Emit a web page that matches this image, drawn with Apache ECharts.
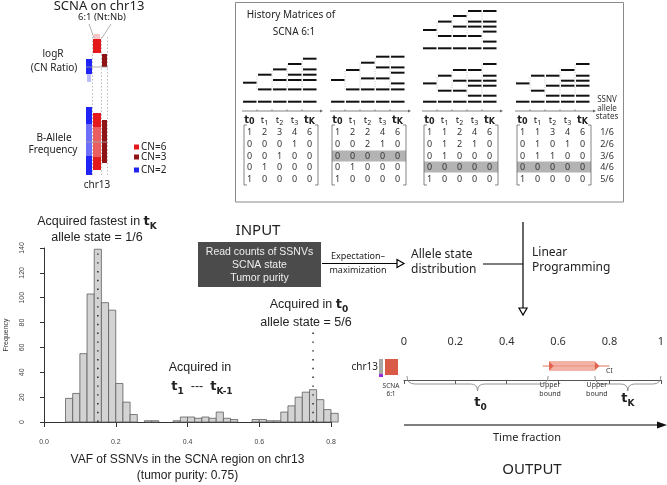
<!DOCTYPE html>
<html><head><meta charset="utf-8">
<script src="https://cdn.jsdelivr.net/npm/echarts@6/dist/echarts.min.js"></script>
<style>html,body{margin:0;padding:0;background:#fff}#c{width:667px;height:485px}</style>
</head><body><div id="c"></div>
<script>
// ================= DATA =================
// Histogram of VAF (bin lower edges, width 0.02)
const binLower = [0.06,0.08,0.10,0.12,0.14,0.16,0.18,0.20,0.22,0.24,0.26,0.28,0.30,0.32,0.34,0.36,0.38,0.40,0.42,0.44,0.46,0.48,0.50,0.52,0.54,0.56,0.58,0.60,0.62,0.64,0.66,0.68,0.70,0.72,0.74,0.76,0.78,0.80];
const binWidth = 0.02;
const counts = [19,23,55,103,139,96,90,31,16,6,0,1,1,0,0,1,4,4,3,4,3,8,3,2,0,0,2,2,1,1,8,13,20,24,26,18,10,7];
// dotted guide lines: [vaf, height]
const guideLines = [[0.15,140],[0.75,77]];
const histXTicks = [0,0.2,0.4,0.6,0.8];
const histYTicks = [0,20,40,60,80,100,120,140];

// Timeline output (time fraction)
const timeTicks = [0,0.2,0.4,0.6,0.8,1];
const ciWhiskerLow = 0.54, upperBoundT0 = 0.565, upperBoundTK = 0.743, ciWhiskerHigh = 0.80;

// History matrices of SCNA 6:1
const timeLabels = ['0','1','2','3','K'];
const alleleStates = ['1/6','2/6','3/6','4/6','5/6'];
const matrices = [
  [[1,2,3,4,6],[0,0,0,1,0],[0,0,1,0,0],[0,1,0,0,0],[1,0,0,0,0]],
  [[1,2,2,4,6],[0,0,2,1,0],[0,0,0,0,0],[0,1,0,0,0],[1,0,0,0,0]],
  [[1,1,2,4,6],[0,1,2,1,0],[0,1,0,0,0],[0,0,0,0,0],[1,0,0,0,0]],
  [[1,1,3,4,6],[0,1,0,1,0],[0,1,1,0,0],[0,0,0,0,0],[1,0,0,0,0]]
];
const highlightRow = [-1,2,3,3];
// copy-number trees: per column, heights of segments above the B-allele baseline
const trees = [
  {panel:0, levels:[[0,19],[0,12.3,27],[0,12.3,21.7,32.3],[0,12.3,21.7,27,37.7],[0,12.3,21.7,27,32.3,43]]},
  {panel:1, levels:[[0,21.7],[0,12.3,31.7],[0,12.3,23.3,39],[0,12.3,23.3,34.3,45],[0,12.3,18.3,29,34.3,45]]},
  {panel:2, upper:true, levels:[[0,18.3],[0,12.3,26.7],[0,12.3,21.7,32.3],[0,12.3,21.7,26.7,37.3],[0,6.7,16.7,21.7,26.7,37.3]]},
  {panel:2, levels:[[0,18.3],[0,11,26],[0,11,21,31.7],[0,6,16,21,31.7],[0,6,16,21,26,37.7]]},
  {panel:3, levels:[[0,18.3],[0,11,26],[0,6,16,26],[0,6,16,21,31.7],[0,6,16,21,26,37.7]]}
];

// ================= DRAWING =================
const FD = 'Noto Sans', FL = 'Liberation Sans', FB = 'DejaVu Sans';
const G = [];
function txt(x,y,text,o){G.push({type:'text',silent:true,z:10,style:Object.assign({x:x,y:y,text:text,fill:'#222',fontSize:11,fontFamily:FD,align:'center',verticalAlign:'middle'},o||{})});}
function ln(x1,y1,x2,y2,o){G.push({type:'line',silent:true,z:10,shape:{x1:x1,y1:y1,x2:x2,y2:y2},style:Object.assign({stroke:'#000',lineWidth:1},o||{})});}
function rc(x,y,w,h,o){G.push({type:'rect',silent:true,z:9,shape:{x:x,y:y,width:w,height:h},style:Object.assign({fill:'#000'},o||{})});}
function pg(pts,o){G.push({type:'polygon',silent:true,z:10,shape:{points:pts},style:Object.assign({fill:'#000'},o||{})});}
function pl(pts,o){G.push({type:'polyline',silent:true,z:10,shape:{points:pts},style:Object.assign({stroke:'#000',lineWidth:1,fill:null},o||{})});}

// ---- top-left SCNA panel ----
txt(99,6,'SCNA on chr13',{fontSize:13});
txt(102,17,'6:1 (Nt:Nb)',{fontSize:9.5});
ln(89,24,94,38,{stroke:'#999',lineWidth:0.8});
ln(111,24,102,38,{stroke:'#999',lineWidth:0.8});
[92.5,101.5,107.5].forEach(x=>ln(x,37,x,176,{stroke:'#aaa',lineWidth:0.8,lineDash:[1.5,2]}));
txt(53,54,'logR',{fontSize:10});
txt(54,68,'(CN Ratio)',{fontSize:10});
rc(93,39,8,14,{fill:'#e3191c'});
rc(94,34,6,5,{fill:'rgba(227,25,28,0.25)'});
rc(102,54,5,13,{fill:'#8e1416'});
rc(86,59,6,15,{fill:'#1f23f5'});
rc(87,74,4,8,{fill:'rgba(31,35,245,0.3)'});
ln(86,67,108,67,{stroke:'#999',lineWidth:0.8});
txt(54,138,'B-Allele',{fontSize:10});
txt(53,150,'Frequency',{fontSize:10});
rc(86,107,6,68,{fill:'#1f23f5'});
rc(86,124,6,32,{fill:'rgba(255,255,255,0.35)'});
rc(93,113,8,57,{fill:'#e3191c'});
rc(93,127,8,30,{fill:'rgba(255,255,255,0.3)'});
rc(102,120,5,43,{fill:'#8e1416'});
ln(86,142,108,142,{stroke:'#aaa',lineWidth:0.8});
txt(97,185,'chr13',{fontSize:10});
[['#e3191c','CN=6',147],['#8e1416','CN=3',157],['#1f23f5','CN=2',170]].forEach(function(d){
  rc(134,d[2]-2.5,5,5,{fill:d[0]});
  txt(141,d[2],d[1],{fontSize:10,align:'left'});
});

// ---- history matrices box ----
rc(235.5,2.5,388,199.5,{fill:null,stroke:'#8a8a8a',lineWidth:1});
txt(291,15,'History Matrices of',{fontSize:10});
txt(294,32,'SCNA 6:1',{fontSize:10});
const panelX = [242,330,422,515];
const colW = 15;
const treeBase = {lower:101.7, upper:48.3};
trees.forEach(function(t){
  const x0 = panelX[t.panel];
  const base = t.upper ? treeBase.upper : treeBase.lower;
  t.levels.forEach(function(col,j){
    col.forEach(function(h){
      ln(x0+j*colW+1, base-h, x0+j*colW+colW-0.5, base-h, {lineWidth:2,stroke:'#111'});
    });
    if(j>0){
      const prev = t.levels[j-1].filter(v=>v>0), cur = col.filter(v=>v>0);
      const all = prev.concat(cur);
      ln(x0+j*colW, base-Math.min.apply(null,all), x0+j*colW, base-Math.max.apply(null,all), {stroke:'#aaa',lineWidth:0.7,lineDash:[1,1.5]});
    }
  });
});
const rowY = [132,144,156,167,179];
panelX.forEach(function(x0,p){
  ln(x0, 111, x0+5*colW+3, 111, {stroke:'#666',lineWidth:0.8});
  pg([[x0+5*colW+3,109.5],[x0+5*colW+6,111],[x0+5*colW+3,112.5]],{fill:'#666'});
  for(let j=1;j<5;j++) ln(x0+j*colW,109.5,x0+j*colW,111,{stroke:'#666',lineWidth:0.8});
  timeLabels.forEach(function(l,j){
    const bold = (j===0||j===4);
    txt(x0+j*colW+7.5, 120, '{t|t}{s|'+l+'}', {rich:{
      t:{fontSize:bold?10:9.5,fontWeight:bold?'bold':'normal',fontFamily:bold?FB:FD,fill:'#222',lineHeight:12},
      s:{fontSize:bold?8:7,fontWeight:bold?'bold':'normal',fontFamily:bold?FB:FD,fill:'#222',lineHeight:9,verticalAlign:'bottom'}}});
  });
  if(highlightRow[p]>=0) rc(x0+2, rowY[highlightRow[p]]-5.5, 74, 11, {fill:'#b3b3b3'});
  pl([[x0+5,125],[x0+2,125],[x0+2,185],[x0+5,185]],{stroke:'#666',lineWidth:0.8});
  pl([[x0+73,125],[x0+76,125],[x0+76,185],[x0+73,185]],{stroke:'#666',lineWidth:0.8});
  matrices[p].forEach(function(row,r){
    row.forEach(function(v,j){ txt(x0+j*colW+7.5, rowY[r], String(v), {fontSize:9,fill:'#333'}); });
  });
});
txt(607,100,'SSNV',{fontSize:8,fill:'#333'});
txt(607,108.5,'allele',{fontSize:8,fill:'#333'});
txt(607,117,'states',{fontSize:8,fill:'#333'});
alleleStates.forEach(function(s,r){ txt(607,rowY[r],s,{fontSize:9,fill:'#333'}); });

// ---- histogram annotations ----
const rich13 = {
  n:{fontSize:12.5,fontFamily:FL,fill:'#222',lineHeight:18},
  b:{fontSize:13,fontWeight:'bold',fontFamily:FB,fill:'#222',lineHeight:18},
  s:{fontSize:9,fontWeight:'bold',fontFamily:FB,fill:'#222',lineHeight:11,verticalAlign:'bottom'}
};
txt(97,222,'{n|Acquired fastest in }{b|t}{s|K}',{rich:rich13});
txt(97,238,'allele state = 1/6',{fontSize:12.5,fontFamily:FL});
txt(309,305,'{n|Acquired in }{b|t}{s|0}',{rich:rich13});
txt(306,323,'allele state = 5/6',{fontSize:12.5,fontFamily:FL});
txt(200,368,'Acquired in',{fontSize:12.5,fontFamily:FL});
txt(202,387,'{b|t}{s|1}{n|  ---  }{b|t}{s|K-1}',{rich:rich13});

// ---- INPUT / methods ----
txt(258,231,'INPUT',{fontSize:15});
rc(198,242,123,45,{fill:'#4b4b4b'});
txt(259.5,252,'Read counts of SSNVs',{fontSize:10.5,fill:'#eee',fontFamily:FL});
txt(259.5,265,'SCNA state',{fontSize:10.5,fill:'#eee',fontFamily:FL});
txt(259.5,278,'Tumor purity',{fontSize:10.5,fill:'#eee',fontFamily:FL});
txt(358,256,'Expectation–',{fontSize:9});
txt(358,270,'maximization',{fontSize:9});
ln(322,263.5,398,263.5,{lineWidth:1.2});
pg([[397,259.5],[404,263.5],[397,267.5]],{fill:'#fff',stroke:'#000',lineWidth:1.2});
txt(411,255,'Allele state',{fontSize:12,align:'left'});
txt(411,270,'distribution',{fontSize:12,align:'left'});
ln(483,264,523,264,{lineWidth:1.2});
ln(523,222,523,308,{lineWidth:1.2});
pg([[519,308],[527,308],[523,315]],{fill:'#fff',stroke:'#000',lineWidth:1.2});
txt(532,253,'Linear',{fontSize:12,align:'left'});
txt(532,268,'Programming',{fontSize:12,align:'left'});

// ---- output ----
txt(378,367,'chr13',{fontSize:10,align:'right'});
rc(379,359,4,18,{fill:'#a8a8a8'});
rc(379,374,4,3,{fill:'#9a2bd6'});
rc(385,359,13,16,{fill:'#d85a47'});
txt(391,386,'SCNA',{fontSize:6.5,fill:'#333'});
txt(391,394,'6:1',{fontSize:6.5,fill:'#333'});
ln(404,425,659,425,{lineWidth:1.1});
pg([[657,421.5],[667,425],[657,428.5]],{fill:'#111'});
txt(527,438,'Time fraction',{fontSize:11});
txt(532,470,'OUTPUT',{fontSize:15});

// ================= CHART =================
const histData = binLower.map((b,i)=>[b, b+binWidth, counts[i]]).filter(d=>d[2]>0);
const guideData = [];
guideLines.forEach(function(g){ guideData.push([g[0],0],[g[0],g[1]],[null,null]); });

function braceChildren(x1,x2,yTop){
  const mid=(x1+x2)/2, y1=yTop+8, y2=yTop+15;
  return {type:'path',shape:{pathData:
    'M'+x1+' '+yTop+' Q'+x1+' '+y1+' '+(x1+8)+' '+y1+' L'+(mid-7)+' '+y1+' Q'+mid+' '+y1+' '+mid+' '+y2+
    ' Q'+mid+' '+y1+' '+(mid+7)+' '+y1+' L'+(x2-8)+' '+y1+' Q'+x2+' '+y1+' '+x2+' '+yTop},
    style:{fill:null,stroke:'#888',lineWidth:0.9}};
}

const option = {
  animation:false,
  backgroundColor:'#fff',
  grid:[{left:44,top:248,width:287,height:178},{left:404,top:352,width:257,height:28}],
  xAxis:[
    {type:'value',gridIndex:0,min:0,max:0.8,interval:0.2,offset:7,
     axisLine:{show:true,lineStyle:{color:'#333',width:1}},
     axisTick:{show:true,length:5,lineStyle:{color:'#333'}},
     axisLabel:{fontSize:7,color:'#444',margin:10,fontFamily:FL,formatter:v=>v.toFixed(1)},
     splitLine:{show:false},
     name:'VAF of SSNVs in the SCNA region on chr13\n(tumor purity: 0.75)',nameLocation:'middle',nameGap:23,
     nameTextStyle:{fontSize:12,color:'#222',lineHeight:16,fontFamily:FL,verticalAlign:'top'}},
    {type:'value',gridIndex:1,position:'top',min:0,max:1,interval:0.2,
     axisLine:{show:true,lineStyle:{color:'#555',width:1}},
     axisTick:{show:true,inside:true,length:4,lineStyle:{color:'#555'}},
     axisLabel:{fontSize:11,color:'#333',margin:5,fontFamily:FD},
     splitLine:{show:false}}
  ],
  yAxis:[
    {type:'value',gridIndex:0,min:0,max:140,interval:20,offset:12,
     axisLine:{show:true,lineStyle:{color:'#333',width:1}},
     axisTick:{show:true,length:4,lineStyle:{color:'#333'}},
     axisLabel:{rotate:90,fontSize:7,color:'#444',margin:6,fontFamily:FL},
     splitLine:{show:false},
     name:'Frequency',nameLocation:'middle',nameGap:22,nameRotate:90,
     nameTextStyle:{fontSize:7,color:'#333',fontFamily:FL}},
    {type:'value',gridIndex:1,min:0,max:1,show:false}
  ],
  series:[
    {type:'custom',xAxisIndex:0,yAxisIndex:0,clip:false,data:histData,
     renderItem:function(params,api){
       const p0=api.coord([api.value(0),api.value(2)]), p1=api.coord([api.value(1),0]);
       return {type:'rect',shape:{x:p0[0],y:p0[1],width:p1[0]-p0[0],height:p1[1]-p0[1]},
               style:{fill:'#d3d3d3',stroke:'#5e5e5e',lineWidth:0.8}};
     }},
    {type:'line',xAxisIndex:0,yAxisIndex:0,data:guideData,symbol:'none',connectNulls:false,
     lineStyle:{color:'#333',width:1.6,type:[1.4,7.4]},z:5},
    {type:'custom',xAxisIndex:1,yAxisIndex:1,clip:false,
     data:[[ciWhiskerLow,upperBoundT0,upperBoundTK,ciWhiskerHigh]],
     renderItem:function(params,api){
       const yc=api.coord([0,0.5])[1];
       const wl=api.coord([api.value(0),0.5])[0], bl=api.coord([api.value(1),0.5])[0],
             bh=api.coord([api.value(2),0.5])[0], wh=api.coord([api.value(3),0.5])[0];
       const x0=api.coord([0,0.5])[0], x1=api.coord([1,0.5])[0];
       const red='#e0604b';
       return {type:'group',children:[
         {type:'line',shape:{x1:wl,y1:yc,x2:wh,y2:yc},style:{stroke:red,lineWidth:0.9}},
         {type:'rect',shape:{x:bl,y:yc-5,width:bh-bl,height:10},style:{fill:'#f3b2a6'}},
         {type:'line',shape:{x1:bl,y1:yc,x2:bh,y2:yc},style:{stroke:red,lineWidth:0.7,opacity:0.6}},
         {type:'polygon',shape:{points:[[bl,yc-4.5],[bl+4.5,yc],[bl,yc+4.5]]},style:{fill:red}},
         {type:'polygon',shape:{points:[[bh,yc-4.5],[bh+4.5,yc],[bh,yc+4.5]]},style:{fill:red}},
         {type:'text',style:{x:wh,y:yc+5,text:'CI',fontSize:7,fill:'#333',fontFamily:FD,align:'center',verticalAlign:'middle'}},
         braceChildren(x0+3,bl-1,yc+10),
         braceChildren(bh,x1,yc+10),
         {type:'text',style:{x:bl+1,y:yc+23,text:'Upper\nbound',fontSize:7,lineHeight:9,fill:'#333',fontFamily:FD,align:'center',verticalAlign:'middle'}},
         {type:'text',style:{x:bh+2,y:yc+23,text:'Upper\nbound',fontSize:7,lineHeight:9,fill:'#333',fontFamily:FD,align:'center',verticalAlign:'middle'}},
         {type:'text',style:{x:(x0+bl)/2+4,y:yc+37,text:'{b|t}{s|0}',rich:rich13,align:'center',verticalAlign:'middle'}},
         {type:'text',style:{x:(bh+x1)/2,y:yc+33,text:'{b|t}{s|K}',rich:rich13,align:'center',verticalAlign:'middle'}}
       ]};
     }}
  ],
  graphic:{elements:G}
};
const chart = echarts.init(document.getElementById('c'),null,{renderer:'canvas'});
chart.setOption(option);
</script></body></html>
